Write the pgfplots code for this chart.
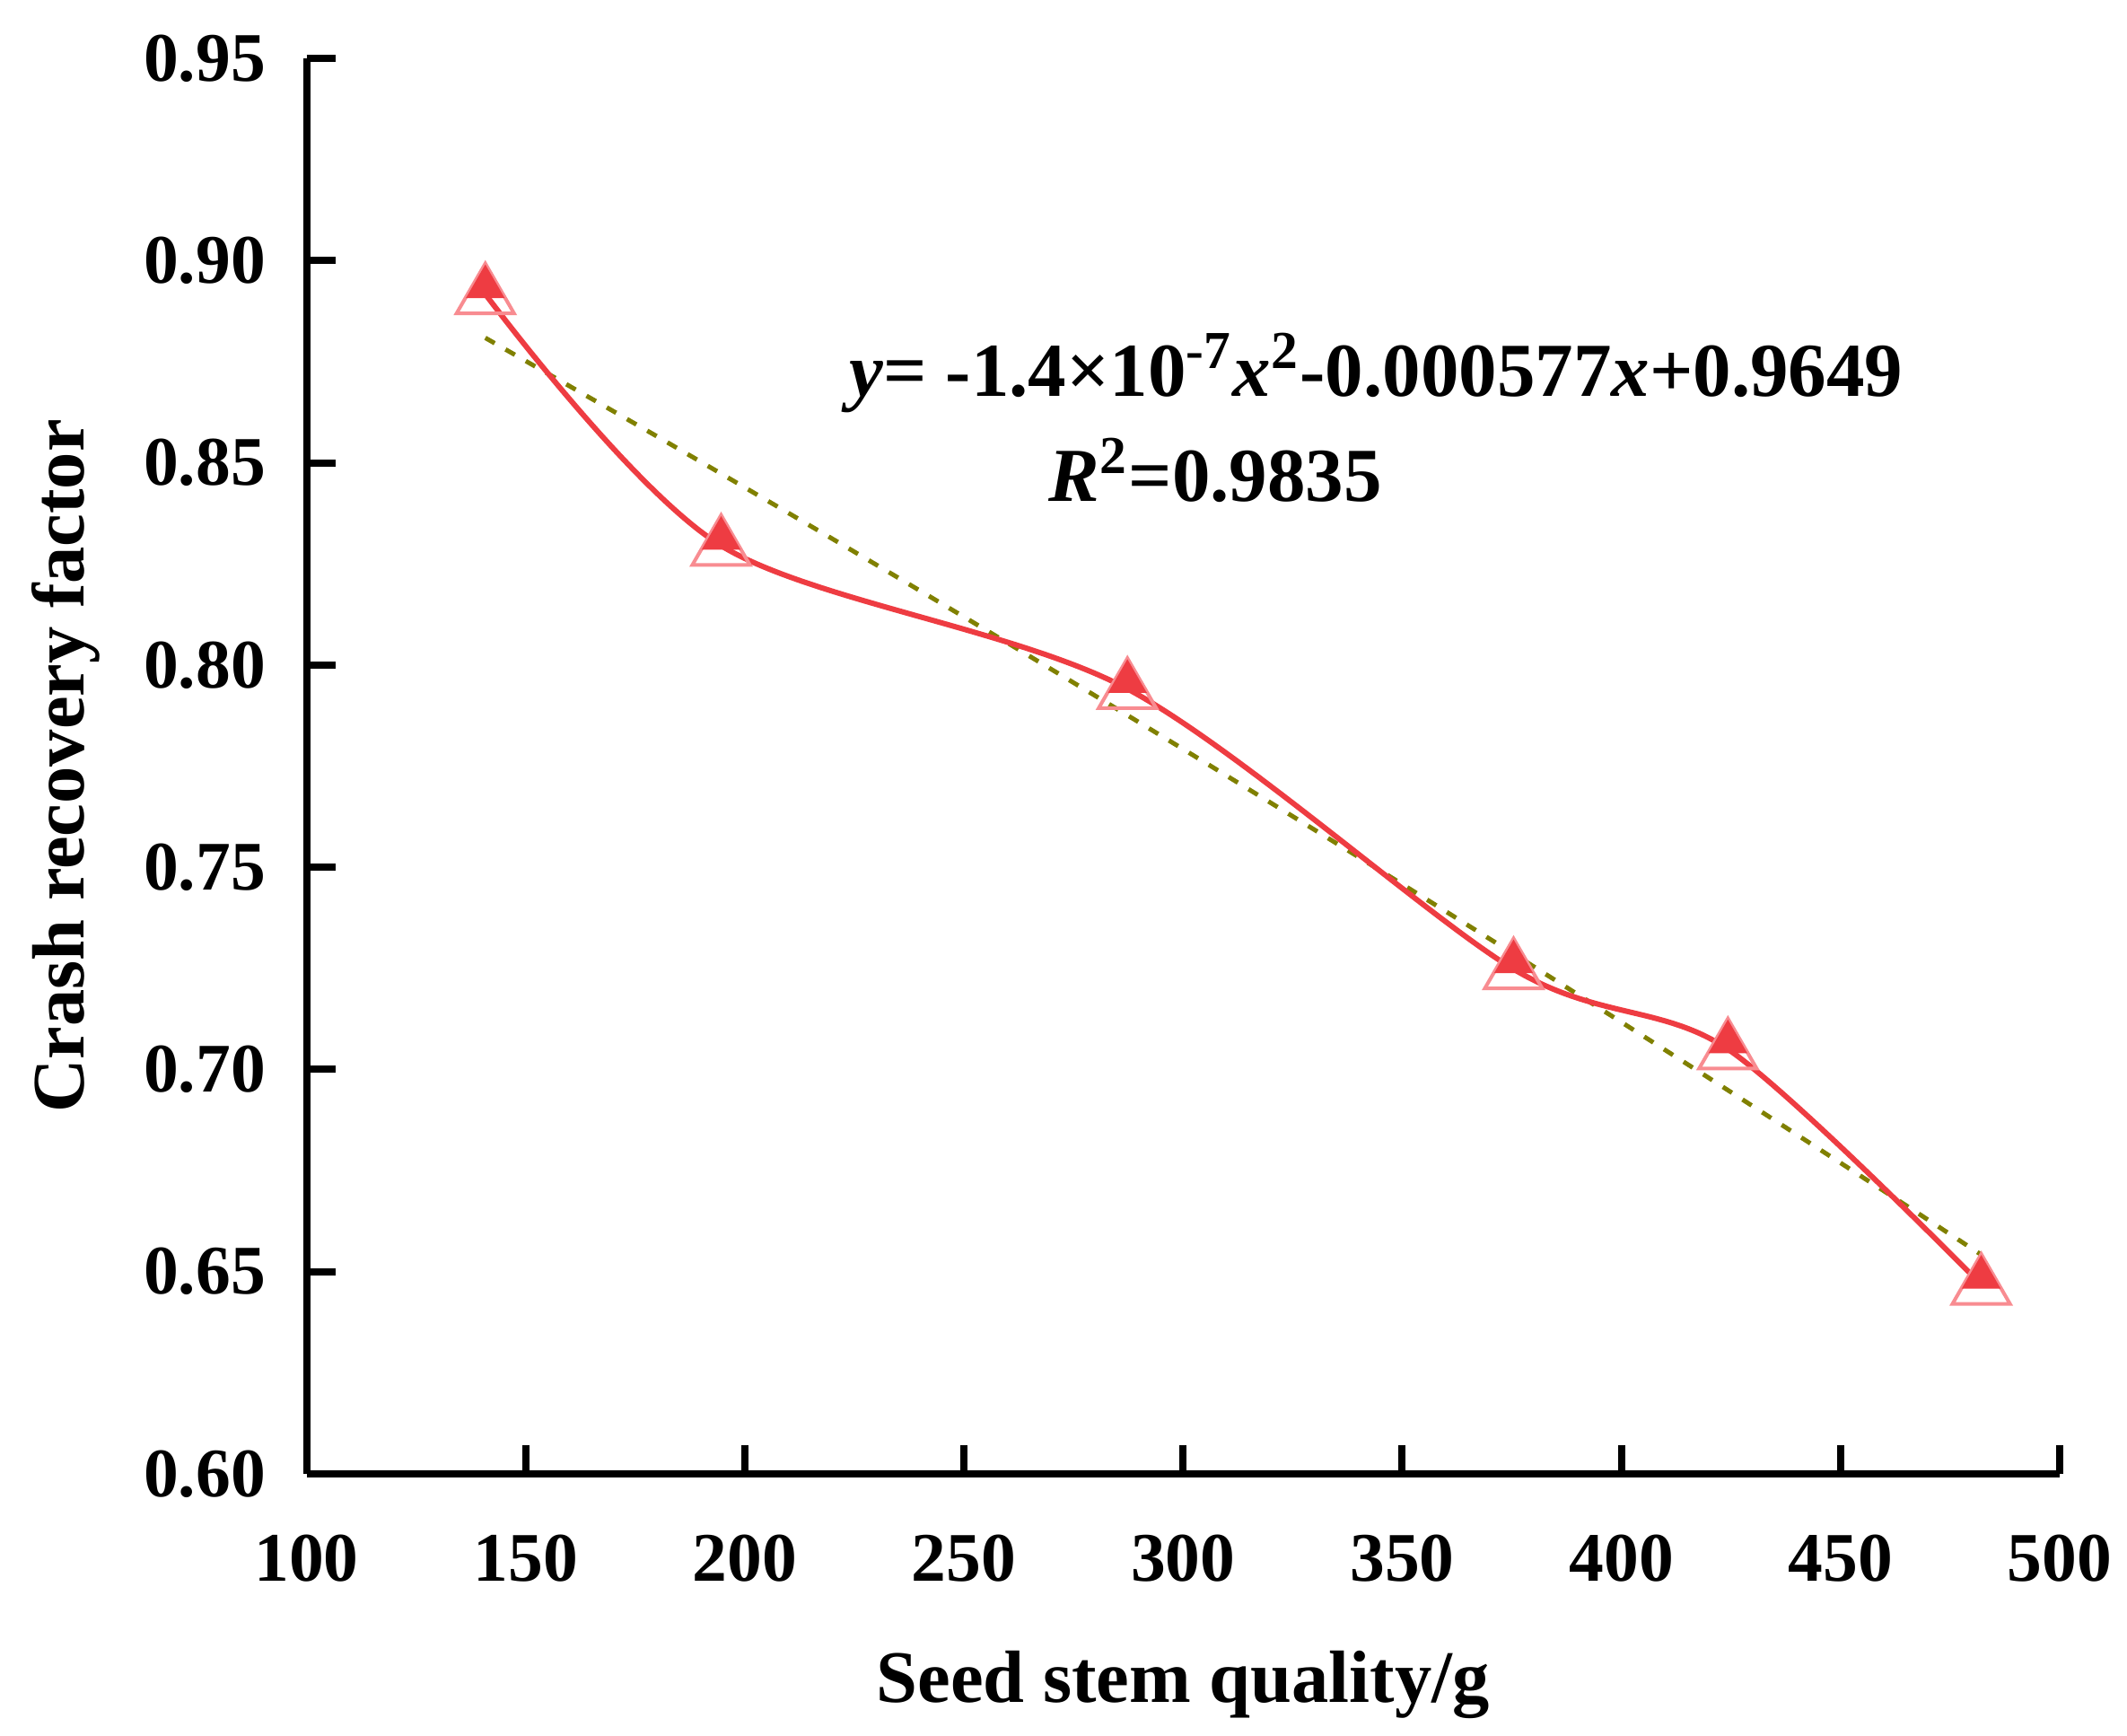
\documentclass[border=0pt]{standalone}
\usepackage{fontspec}
\setmainfont{Liberation Serif}
\usepackage{pgfplots}
\pgfplotsset{compat=1.18}
\definecolor{lred}{RGB}{238,60,66}
\definecolor{lpink}{RGB}{248,140,145}
\definecolor{trend}{RGB}{128,128,0}
\begin{document}
\begin{tikzpicture}
\path[use as bounding box] (0,0) rectangle (474pt,386.8pt);
\begin{axis}[
  at={(68.3pt,58.4pt)}, anchor=south west,
  scale only axis, width=390.7pt, height=315.4pt,
  xmin=100, xmax=500, ymin=0.6, ymax=0.95,
  axis x line*=bottom, axis y line*=left,
  axis line style={line width=1.6pt, black},
  tick style={line width=1.6pt, black},
  major tick length=6.4pt, tick align=inside,
  xtick={100,150,200,250,300,350,400,450,500},
  ytick={0.6,0.65,0.7,0.75,0.8,0.85,0.9,0.95},
  yticklabel style={/pgf/number format/fixed, /pgf/number format/fixed zerofill, /pgf/number format/precision=2, xshift=-5.6pt},
  /pgf/number format/assume math mode=true,
  ticklabel style={font=\bfseries\fontsize{15.5}{18}\selectfont},
  xticklabel style={yshift=-10pt},
  xlabel={Seed stem quality/g},
  ylabel={Crash recovery factor},
  label style={font=\bfseries\fontsize{16.5}{20}\selectfont},
  xlabel style={at={(axis description cs:0.5,-0.1617)}, anchor=base},
  ylabel style={at={(axis description cs:-0.1272,0.5)}, anchor=base},
  clip=false,
]
% polynomial trendline (values of the printed fit)
\addplot[trend, line width=1pt, dash pattern=on 2.4pt off 2.8pt, smooth] coordinates {
 (140.8,0.880882) (180,0.856504) (220,0.831184) (260,0.805416) (300,0.7792)
 (340,0.752536) (380,0.725424) (420,0.697864) (460,0.669856) (482.1,0.654189)};
% measured data, smoothed line
\addplot[lred, line width=1.2pt, smooth] coordinates {
 (140.8,0.8917) (194.6,0.8295) (287.3,0.7941) (375.4,0.7248) (424.3,0.705) (482.1,0.6468)};
\addplot[only marks, mark=triangle, mark size=7.4pt,
  mark options={draw=lpink, fill=white, line width=0.8pt, yshift=-0.6pt}] coordinates {
 (140.8,0.8917) (194.6,0.8295) (287.3,0.7941) (375.4,0.7248) (424.3,0.705) (482.1,0.6468)};
\addplot[only marks, mark=triangle*, mark size=4.6pt,
  mark options={draw=lred, fill=lred, yshift=1.6pt}] coordinates {
 (140.8,0.8917) (194.6,0.8295) (287.3,0.7941) (375.4,0.7248) (424.3,0.705) (482.1,0.6468)};
\node[anchor=base west, inner sep=0pt, font=\bfseries\fontsize{17}{20}\selectfont]
  at (rel axis cs:0.309,0.761)
  {\textit{y}= -1.4×10\textsuperscript{-7}\textit{x}\textsuperscript{2}-0.000577\textit{x}+0.9649};
\node[anchor=base west, inner sep=0pt, font=\bfseries\fontsize{17}{20}\selectfont]
  at (rel axis cs:0.423,0.687)
  {\textit{R}\textsuperscript{2}=0.9835};
\end{axis}
\end{tikzpicture}
\end{document}
